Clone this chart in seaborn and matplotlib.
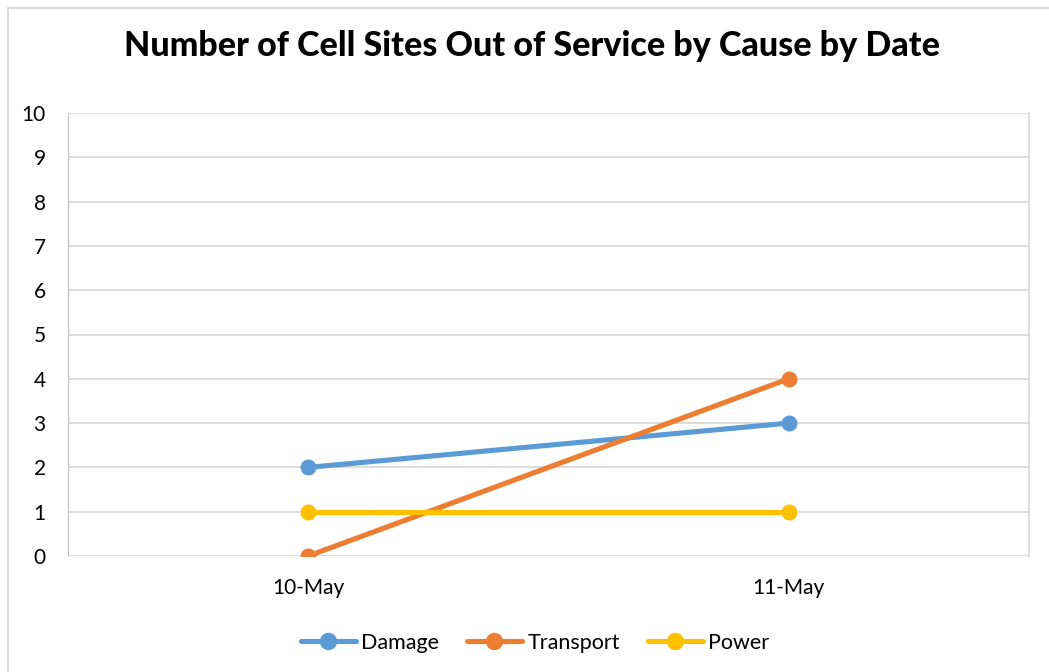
import seaborn as sns
import matplotlib.pyplot as plt
import matplotlib.patches as mpatches
import pandas as pd

dates = ['10-May', '11-May']
damage = [2, 3]
transport = [0, 4]
power = [1, 1]
causes = ['Damage', 'Transport', 'Power']
colors = ['#5B9BD5', '#ED7D31', '#FFC000']

df = pd.DataFrame({
    'date': dates * 3,
    'count': damage + transport + power,
    'cause': [c for c in causes for _ in dates],
})
df['pos'] = df['date'].map({d: i for i, d in enumerate(dates)})

sns.set_style('white')
plt.rcParams['font.family'] = ['Lato', 'DejaVu Sans']
plt.rcParams['text.color'] = 'black'
plt.rcParams['xtick.color'] = 'black'
plt.rcParams['ytick.color'] = 'black'

W, H = 1049, 672
fig = plt.figure(figsize=(W / 100, H / 100), dpi=100)
# plot area in pixels: left 68, right 1029, top 113, bottom 556
ax = fig.add_axes([68 / W, 1 - 556 / H, (1029 - 68) / W, (556 - 113) / H])

sns.lineplot(data=df, x='pos', y='count', hue='cause', hue_order=causes,
             palette=colors, marker='o', markersize=11.5, markeredgewidth=0,
             linewidth=3.7, ax=ax, legend=False, zorder=3)

ax.set_xlim(-0.5, len(dates) - 0.5)
ax.set_ylim(0, 10)
ax.set_yticks(range(0, 11))
ax.set_xticks(range(len(dates)))
ax.set_xticklabels(dates)
ax.set_xticks([-0.5, 0.5, 1.5], minor=True)
ax.set_xlabel('')
ax.set_ylabel('')
ax.grid(axis='y', color='#D9D9D9', linewidth=1.3, zorder=0)
ax.tick_params(axis='x', which='major', length=0, pad=15.5, labelsize=15)
ax.tick_params(axis='x', which='minor', length=6, color='#D9D9D9', width=1.3, direction='out')
ax.tick_params(axis='y', length=0, pad=16, labelsize=15)
ax.spines['top'].set_visible(False)
ax.spines['bottom'].set_visible(False)
ax.spines['left'].set_color('#BFBFBF')
ax.spines['right'].set_color('#D9D9D9')
ax.spines['right'].set_linewidth(1.3)

fig.text(532 / W, 1 - 46 / H, 'Number of Cell Sites Out of Service by Cause by Date',
         ha='center', va='center', fontsize=24.5, fontweight='black')

handles = [plt.Line2D([], [], color=c, marker='o', markersize=12.5, linewidth=3.7,
                      markeredgewidth=0) for c in colors]
fig.legend(handles, causes, loc='center', bbox_to_anchor=(535 / W, 1 - 643 / H),
           ncol=3, frameon=False, fontsize=15.5, handlelength=2.55,
           handletextpad=0.25, columnspacing=1.3)

# outer chart border
fig.patches.append(mpatches.Rectangle((8 / W, -0.1), 1.2, 1 - 8 / H + 0.1,
                                      transform=fig.transFigure, fill=False,
                                      edgecolor='#D9D9D9', linewidth=1.5))

fig.savefig('out.png', dpi=100)
